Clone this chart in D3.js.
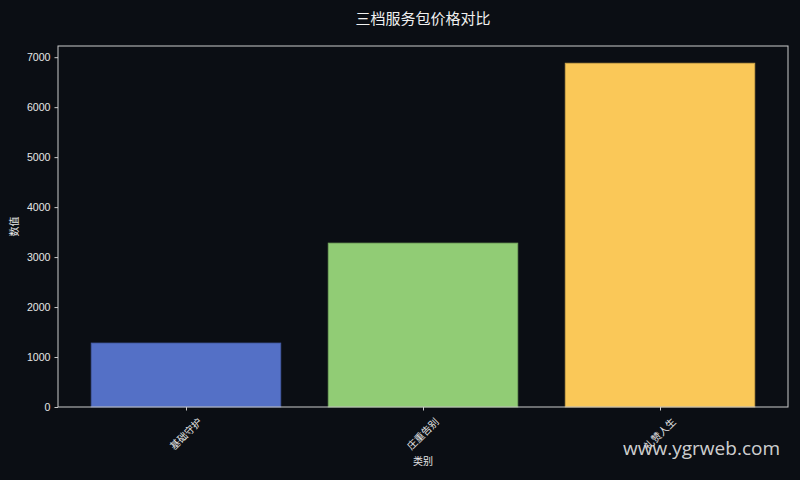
<!DOCTYPE html>
<meta charset="utf-8">
<title>三档服务包价格对比</title>
<style>
  body { margin: 0; background: #0b0e14; }
  text { font-family: "Liberation Sans", "Noto Sans CJK SC", sans-serif; }
</style>
<body>
<script src="https://d3js.org/d3.v7.min.js"></script>
<script type="text/javascript">

var categories = ["基础守护", "庄重告别", "礼赞人生"];
var prices = [1280, 3280, 6880];
var barColors = ["#5470c6", "#91cc75", "#fac858"];
var yTicks = [0, 1000, 2000, 3000, 4000, 5000, 6000, 7000];

var width = 800, height = 480;
var plotLeft = 58, plotRight = 788, plotTop = 46, plotBottom = 407;
var ink = "#e6e6e6";

var svg = d3.select("body").append("svg")
  .attr("width", width)
  .attr("height", height)
  .style("display", "block");

svg.append("rect").attr("width", width).attr("height", height).attr("fill", "#0b0e14");

// matplotlib-like x limits: bars 0.8 wide plus 5% margin
var x = d3.scaleLinear()
  .domain([-0.4 - 0.14, categories.length - 1 + 0.4 + 0.14])
  .range([plotLeft, plotRight]);

var y = d3.scaleLinear()
  .domain([0, d3.max(prices) * 1.05])
  .range([plotBottom, plotTop]);

// bars
svg.selectAll("rect.bar")
  .data(prices)
  .enter().append("rect")
  .attr("class", "bar")
  .attr("x", function(d, i) { return x(i - 0.4); })
  .attr("width", function(d, i) { return x(i + 0.4) - x(i - 0.4); })
  .attr("y", function(d) { return y(d); })
  .attr("height", function(d) { return y(0) - y(d); })
  .attr("fill", function(d, i) { return barColors[i]; })
  .attr("stroke", function(d, i) { return d3.color(barColors[i]).darker(0.6); })
  .attr("stroke-width", 0.8);

// frame
svg.append("rect")
  .attr("x", plotLeft).attr("y", plotTop)
  .attr("width", plotRight - plotLeft).attr("height", plotBottom - plotTop)
  .attr("fill", "none")
  .attr("stroke", "#cccccc")
  .attr("stroke-width", 1);

// y axis
var yAxis = svg.append("g")
  .attr("transform", "translate(" + plotLeft + ",0)")
  .call(d3.axisLeft(y).tickValues(yTicks).tickSize(3.5).tickPadding(4).tickFormat(d3.format("d")));
yAxis.select(".domain").remove();
yAxis.selectAll("line").attr("stroke", "#cccccc");
yAxis.selectAll("text")
  .attr("fill", ink)
  .style("font-family", "'Liberation Sans', Arial, sans-serif")
  .style("font-size", "10.6px");

// x axis
var xAxis = svg.append("g")
  .attr("transform", "translate(0," + plotBottom + ")")
  .call(d3.axisBottom(x).tickValues(d3.range(categories.length)).tickSize(3.5).tickFormat(function() { return ""; }));
xAxis.select(".domain").remove();
xAxis.selectAll("line").attr("stroke", "#cccccc");

svg.selectAll("text.xlab")
  .data(categories)
  .enter().append("text")
  .attr("class", "xlab")
  .attr("transform", function(d, i) { return "translate(" + x(i) + ",434) rotate(-45)"; })
  .attr("text-anchor", "middle")
  .attr("dy", "0.35em")
  .attr("fill", ink)
  .style("font-size", "10px")
  .text(function(d) { return d; });

// axis titles
svg.append("text")
  .attr("x", (plotLeft + plotRight) / 2).attr("y", 465)
  .attr("text-anchor", "middle")
  .attr("fill", ink)
  .style("font-size", "10px")
  .text("类别");

svg.append("text")
  .attr("transform", "translate(18," + (plotTop + plotBottom) / 2 + ") rotate(-90)")
  .attr("text-anchor", "middle")
  .attr("fill", ink)
  .style("font-size", "10px")
  .text("数值");

// title
svg.append("text")
  .attr("x", (plotLeft + plotRight) / 2).attr("y", 24)
  .attr("text-anchor", "middle")
  .attr("fill", "#f0f0f0")
  .style("font-size", "15px")
  .text("三档服务包价格对比");

// watermark
svg.append("text")
  .attr("x", 780).attr("y", 455)
  .attr("text-anchor", "end")
  .attr("fill", "#e8e8e8")
  .attr("fill-opacity", 0.9)
  .style("font-family", "'Open Sans', 'Noto Sans', sans-serif")
  .style("font-size", "19px")
  .text("www.ygrweb.com");

</script>
</body>
